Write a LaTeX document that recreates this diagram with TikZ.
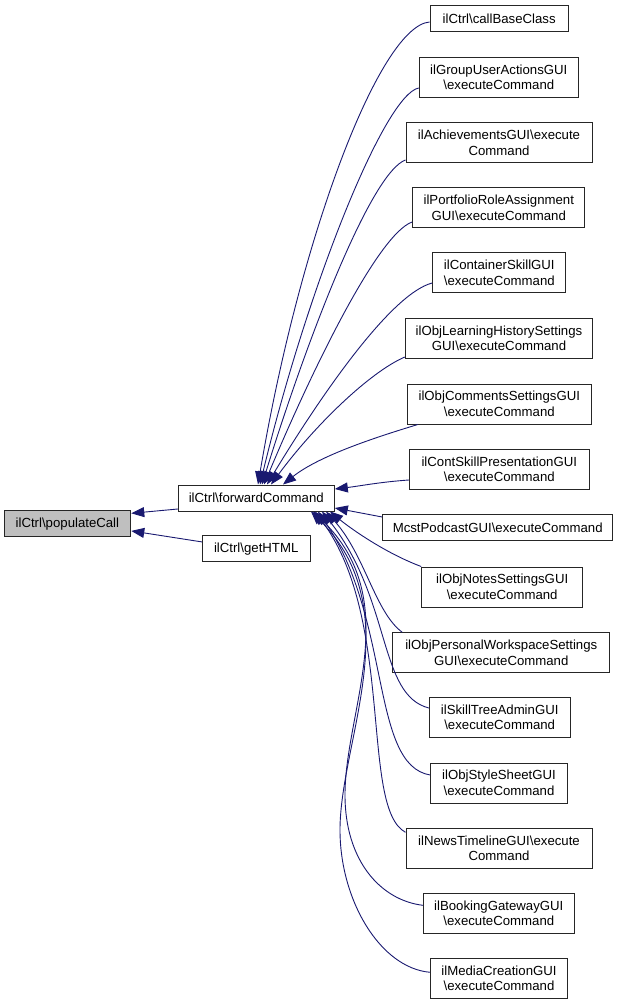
\documentclass[tikz,border=0pt]{standalone}
\usepackage{fontspec}
\setmainfont{Liberation Sans}
\usetikzlibrary{arrows.meta,calc}
\definecolor{edgeblue}{HTML}{191970}
\definecolor{hilite}{HTML}{BFBFBF}
\begin{document}
\begin{tikzpicture}[x=1pt,y=-1pt,
  box/.style={draw=black!85, line width=1pt, fill=white, inner sep=0pt, align=center,
    font=\fontsize{13.2}{15.6}\selectfont},
  one/.style={box, minimum height=26pt},
  two/.style={box, minimum height=40pt},
  edge/.style={draw=edgeblue, line width=0.9pt, -{Triangle[length=13pt,width=10pt]}}]
\useasboundingbox (0,0) rectangle (621,1005);

% main nodes
\node[one, fill=hilite, minimum width=126.7pt] (pop) at (67.4,523.9) {ilCtrl\textbackslash populateCall};
\node[one, minimum width=156pt] (fc) at (256.3,498) {ilCtrl\textbackslash forwardCommand};
\node[one, minimum width=107.7pt] (gh) at (256.2,548.9) {ilCtrl\textbackslash getHTML};

% callers
\node[one, minimum width=138.3pt] (cb) at (499.2,18.3) {ilCtrl\textbackslash callBaseClass};
\node[two, minimum width=159pt] (gu) at (498.8,77.3) {ilGroupUserActionsGUI\\\textbackslash executeCommand};
\node[two, minimum width=186pt] (ac) at (499,142.5) {ilAchievementsGUI\textbackslash execute\\Command};
\node[two, minimum width=172.3pt] (pr) at (498.8,207.5) {ilPortfolioRoleAssignment\\GUI\textbackslash executeCommand};
\node[two, minimum width=133.3pt] (cs) at (499.3,272.7) {ilContainerSkillGUI\\\textbackslash executeCommand};
\node[two, minimum width=187.4pt] (lh) at (499,338.3) {ilObjLearningHistorySettings\\GUI\textbackslash executeCommand};
\node[two, minimum width=184pt] (cm) at (499.3,404) {ilObjCommentsSettingsGUI\\\textbackslash executeCommand};
\node[two, minimum width=180pt] (sp) at (499.3,469.3) {ilContSkillPresentationGUI\\\textbackslash executeCommand};
\node[one, minimum width=230pt] (mp) at (497.7,527.3) {McstPodcastGUI\textbackslash executeCommand};
\node[two, minimum width=161pt] (ns) at (502.2,587) {ilObjNotesSettingsGUI\\\textbackslash executeCommand};
\node[two, minimum width=217.3pt] (pw) at (501.3,652.7) {ilObjPersonalWorkspaceSettings\\GUI\textbackslash executeCommand};
\node[two, minimum width=140.7pt] (st) at (499.7,717.3) {ilSkillTreeAdminGUI\\\textbackslash executeCommand};
\node[two, minimum width=136.6pt] (ss) at (499,783) {ilObjStyleSheetGUI\\\textbackslash executeCommand};
\node[two, minimum width=186pt] (nt) at (499,848.3) {ilNewsTimelineGUI\textbackslash execute\\Command};
\node[two, minimum width=151pt] (bg) at (498.8,913.3) {ilBookingGatewayGUI\\\textbackslash executeCommand};
\node[two, minimum width=136.6pt] (mc) at (499,978.3) {ilMediaCreationGUI\\\textbackslash executeCommand};

% edges to populateCall
\draw[edge] ($(fc.west)+(0,11)$) -- ($(pop.east)+(0,-10.6)$);
\draw[edge] ($(gh.west)+(0,-7)$) -- ($(pop.east)+(0,7)$);

% upper callers
\draw[edge] ($(cb.west)+(0,3.7)$) .. controls (380,26) and (300,235) .. ($(fc.north)+(1.7,0)$);
\draw[edge] ($(gu.west)+(0,10.7)$) .. controls (385,94) and (308,285) .. ($(fc.north)+(3.7,0)$);
\draw[edge] ($(ac.west)+(0,17.5)$) .. controls (372,172) and (310,330) .. ($(fc.north)+(5.7,0)$);
\draw[edge] ($(pr.west)+(0,14.5)$) .. controls (378,234) and (312,370) .. ($(fc.north)+(7.7,0)$);
\draw[edge] ($(cs.west)+(0,10.3)$) .. controls (390,294) and (318,400) .. ($(fc.north)+(10.7,0)$);
\draw[edge] ($(lh.west)+(0,18.7)$) .. controls (370,372) and (315,425) .. ($(fc.north)+(14.7,0)$);
\draw[edge] ($(cm.south west)+(11,0)$) .. controls (380,436) and (320,455) .. ($(fc.north)+(26.7,0)$);
\draw[edge] ($(sp.west)+(0,10.7)$) .. controls (380,482) and (360,486) .. ($(fc.east)+(0,-9)$);

% lower callers
\draw[edge] ($(mp.west)+(0,-10.3)$) -- ($(fc.east)+(0,10)$);
\draw[edge] (ns.north west) .. controls (385,553) and (350,528) .. ($(fc.south)+(73.7,0)$);
\draw[edge] ($(pw.north west)+(10,0)$) .. controls (375,612) and (365,555) .. ($(fc.south)+(69.7,0)$);
\draw[edge] ($(st.west)+(0,-9.3)$) .. controls (378,695) and (392,600) .. ($(fc.south)+(65.7,0)$);
\draw[edge] ($(ss.west)+(0,-8)$) .. controls (370,765) and (392,620) .. ($(fc.south)+(61.7,0)$);
\draw[edge] ($(nt.west)+(0,-16)$) .. controls (360,808) and (395,620) .. ($(fc.south)+(58.7,0)$);
\draw[edge] ($(bg.west)+(0,-8)$) .. controls (380,900) and (345,860) .. (345,795)
  .. controls (345,710) and (405,600) .. ($(fc.south)+(56.7,0)$);
\draw[edge] ($(mc.west)+(0,-6)$) .. controls (380,968) and (340,900) .. (340,830)
  .. controls (340,740) and (410,610) .. ($(fc.south)+(54.7,0)$);
\end{tikzpicture}
\end{document}
